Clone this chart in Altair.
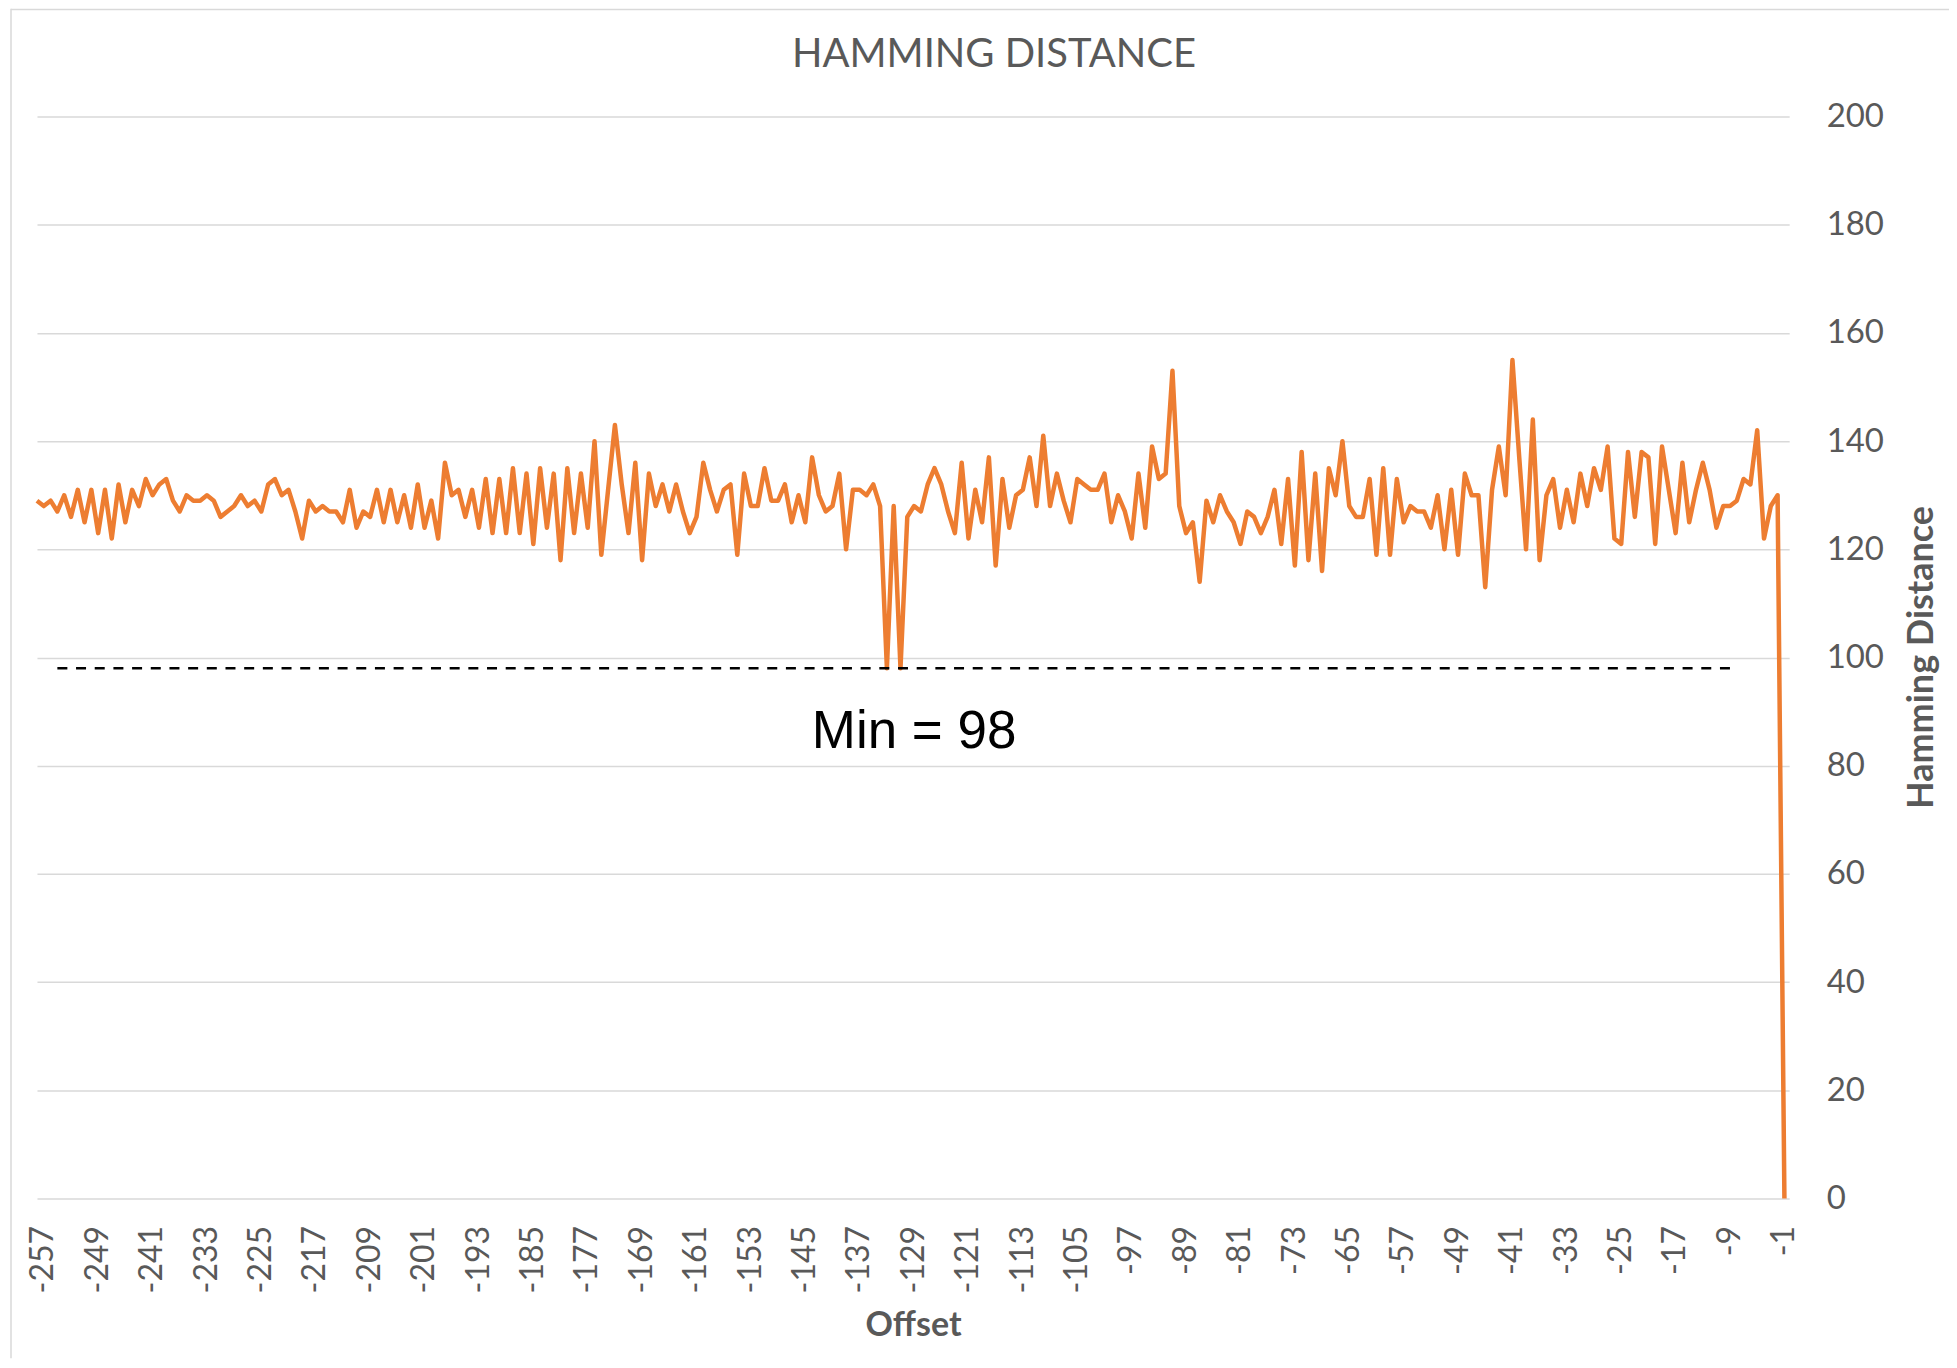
import altair as alt
import pandas as pd

# ---- data ----
offsets = list(range(-257, 1))
hamming = [
    129, 128, 129, 127, 130, 126, 131, 125, 131, 123, 131, 122, 132, 125, 131, 128,
    133, 130, 132, 133, 129, 127, 130, 129, 129, 130, 129, 126, 127, 128, 130, 128, 129,
    127, 132, 133, 130, 131, 127, 122, 129, 127, 128, 127, 127, 125, 131, 124, 127,
    126, 131, 125, 131, 125, 130, 124, 132, 124, 129, 122, 136, 130, 131, 126, 131,
    124, 133, 123, 133, 123, 135, 123, 134, 121, 135, 124, 134, 118, 135, 123, 134,
    124, 140, 119, 131, 143, 132, 123, 136, 118, 134, 128, 132, 127, 132, 127, 123, 126,
    136, 131, 127, 131, 132, 119, 134, 128, 128, 135, 129, 129, 132, 125, 130, 125,
    137, 130, 127, 128, 134, 120, 131, 131, 130, 132, 128, 98, 128, 98, 126, 128,
    127, 132, 135, 132, 127, 123, 136, 122, 131, 125, 137, 117, 133, 124, 130, 131,
    137, 128, 141, 128, 134, 129, 125, 133, 132, 131, 131, 134, 125, 130, 127, 122,
    134, 124, 139, 133, 134, 153, 128, 123, 125, 114, 129, 125, 130, 127, 125, 121,
    127, 126, 123, 126, 131, 121, 133, 117, 138, 118, 134, 116, 135, 130, 140, 128, 126,
    126, 133, 119, 135, 119, 133, 125, 128, 127, 127, 124, 130, 120, 131, 119, 134,
    130, 130, 113, 131, 139, 130, 155, 137, 120, 144, 118, 130, 133, 124, 131, 125,
    134, 128, 135, 131, 139, 122, 121, 138, 126, 138, 137, 121, 139, 131, 123, 136,
    125, 131, 136, 131, 124, 128, 128, 129, 133, 132, 142, 122, 128, 130,
    0,
]
assert len(hamming) == len(offsets)

x_tick_values = list(range(-257, 0, 8))
y_tick_values = list(range(0, 201, 20))

min_value = [98]
min_x_start = [-254]
min_x_end = [-7]
min_label = ["Min = 98"]
min_label_x = [-128]
min_label_y = [83.3]

df = pd.DataFrame({"Offset": offsets, "Hamming Distance": hamming})
min_df = pd.DataFrame({"Offset": min_x_start, "OffsetEnd": min_x_end, "Hamming Distance": min_value})
lab_df = pd.DataFrame({"Offset": min_label_x, "Hamming Distance": min_label_y, "t": min_label})

GREY = "#595959"
FONT = "Lato"

x_scale = alt.Scale(domain=[-257, 0.7], nice=False, zero=False)
y_scale = alt.Scale(domain=[0, 200], nice=False)

x_axis = alt.Axis(
    values=x_tick_values,
    labelExpr="'' + datum.value",
    labelAngle=270,
    labelPadding=27,
    labelOffset=6,
    ticks=False,
    domain=False,
    grid=False,
    labelFont=FONT,
    labelFontSize=32,
    labelColor=GREY,
    labelOverlap=False,
    title="Offset",
    titleFont=FONT,
    titleFontSize=34,
    titleFontWeight="bold",
    titleColor=GREY,
    titlePadding=16,
)
y_axis = alt.Axis(
    orient="right",
    values=y_tick_values,
    ticks=False,
    domain=False,
    grid=True,
    gridColor="#d9d9d9",
    gridWidth=1.5,
    labelPadding=37,
    labelFont=FONT,
    labelFontSize=33,
    labelColor=GREY,
    title="Hamming Distance",
    titleAngle=270,
    titleFont=FONT,
    titleFontSize=36,
    titleFontWeight="bold",
    titleColor=GREY,
    titleX=132,
    titleY=541,
    titleAlign="center",
    titleBaseline="middle",
)

line = alt.Chart(df).mark_line(color="#ED7D31", strokeWidth=4.5, strokeJoin="round").encode(
    x=alt.X("Offset:Q", scale=x_scale, axis=x_axis),
    y=alt.Y("Hamming Distance:Q", scale=y_scale, axis=y_axis),
)

rule = alt.Chart(min_df).mark_rule(color="black", strokeWidth=2.5, strokeDash=[10, 8.7]).encode(
    x=alt.X("Offset:Q", scale=x_scale, axis=x_axis),
    x2="OffsetEnd:Q",
    y=alt.Y("Hamming Distance:Q", scale=y_scale, axis=y_axis),
)

label = alt.Chart(lab_df).mark_text(
    font="Liberation Sans", fontSize=53, color="black", align="center", baseline="alphabetic"
).encode(
    x=alt.X("Offset:Q", scale=x_scale, axis=x_axis),
    y=alt.Y("Hamming Distance:Q", scale=y_scale, axis=y_axis),
    text="t:N",
)

frame_df = pd.DataFrame({"a": [0]})
left_border = alt.Chart(frame_df).mark_rule(color="#d9d9d9", strokeWidth=1.5).encode(
    x=alt.value(-26), y=alt.value(-108), y2=alt.value(1243)
)
top_border = alt.Chart(frame_df).mark_rule(color="#d9d9d9", strokeWidth=1.5).encode(
    x=alt.value(-26), x2=alt.value(1914), y=alt.value(-107.2)
)

chart = alt.layer(line, rule, label, left_border, top_border).properties(
    width=1754,
    height=1083,
    background="white",
    title=alt.Title(
        "HAMMING DISTANCE",
        font=FONT,
        fontSize=40,
        fontWeight="normal",
        color=GREY,
        anchor="middle",
        frame="group",
        dx=81,
        dy=67,
        offset=0,
    ),
    autosize=alt.AutoSizeParams(type="none"),
    padding={"left": 29, "top": 108, "right": 160, "bottom": 160},
).configure_view(stroke="transparent", strokeWidth=0)

chart.save("out.html", embed_options={"renderer": "svg", "actions": False})
